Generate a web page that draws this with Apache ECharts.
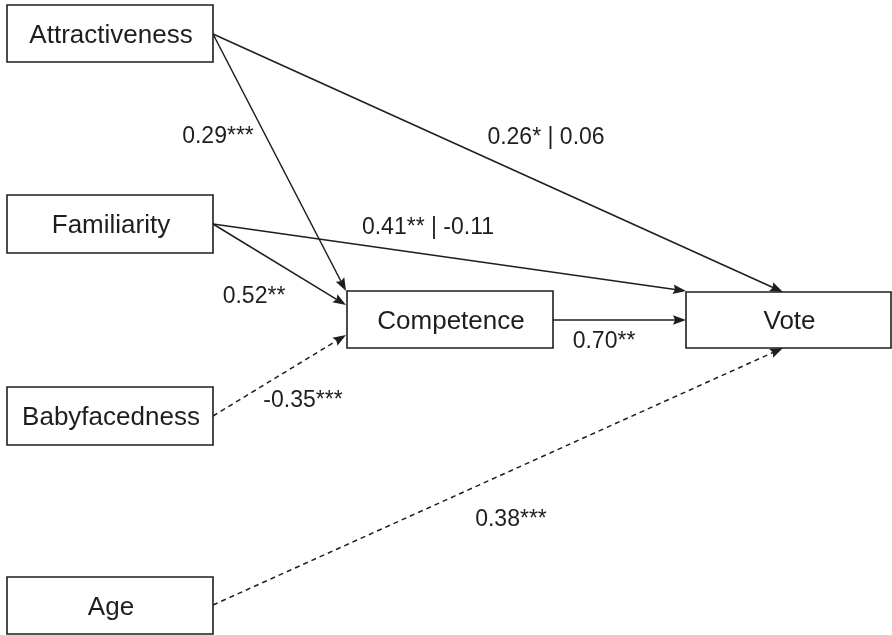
<!DOCTYPE html>
<html>
<head>
<meta charset="utf-8">
<script src="https://cdn.jsdelivr.net/npm/echarts@6/dist/echarts.min.js"></script>
<style>
  html, body { margin: 0; padding: 0; background: #fff; }
  #chart { width: 892px; height: 635px; }
</style>
</head>
<body>
<div id="chart"></div>
<script>
// boxes (left, top in diagram units)
var nodeNames = ['Attractiveness', 'Familiarity', 'Babyfacedness', 'Age', 'Competence', 'Vote'];
var nodeX = [7, 7, 7, 7, 347, 686];
var nodeY = [5, 195, 387, 577, 291, 292];
var nodeW = [206, 206, 206, 206, 206, 205];
var nodeH = [57, 58, 58, 57, 57, 56];

// paths
var edgeStart = [[213, 34], [213, 34], [213, 224], [213, 224], [553, 320], [213, 416], [213, 605]];
var edgeEnd = [[783, 292], [346, 291], [686, 291], [346, 305], [686, 320], [346, 335], [783, 348]];
var edgeDashed = [false, false, false, false, false, true, true];

// coefficients
var edgeLabels = ['0.26* | 0.06', '0.29***', '0.41** | -0.11', '0.52**', '0.70**', '-0.35***', '0.38***'];
var labelX = [546, 218, 428, 254, 604, 303, 511];
var labelY = [136, 135, 226, 295, 340, 399, 518];

var font = '"Liberation Sans", Arial, sans-serif';
var ink = '#1e1e1e';

var myChart = echarts.init(document.getElementById('chart'));

var nodeData = nodeNames.map(function (n, i) {
	return [nodeX[i], nodeY[i], nodeX[i] + nodeW[i], nodeY[i] + nodeH[i], n];
});
var edgeData = edgeStart.map(function (s, i) {
	return [s[0], s[1], edgeEnd[i][0], edgeEnd[i][1], edgeDashed[i] ? 1 : 0];
});
var labelData = edgeLabels.map(function (t, i) {
	return [labelX[i], labelY[i], t];
});

var option = {
	animation: false,
	grid: { left: 0, right: 0, top: 0, bottom: 0 },
	xAxis: { type: 'value', min: 0, max: 892, show: false },
	yAxis: { type: 'value', min: 0, max: 635, inverse: true, show: false },
	series: [
		{
			type: 'custom',
			name: 'edges',
			data: edgeData,
			renderItem: function (params, api) {
				var p1 = api.coord([api.value(0), api.value(1)]);
				var p2 = api.coord([api.value(2), api.value(3)]);
				var dashed = api.value(4) === 1;
				var dx = p2[0] - p1[0], dy = p2[1] - p1[1];
				var len = Math.sqrt(dx * dx + dy * dy);
				var ux = dx / len, uy = dy / len;
				var headL = 13, headW = 4.8;
				var bx = p2[0] - ux * headL, by = p2[1] - uy * headL;
				return {
					type: 'group',
					children: [
						{
							type: 'line',
							shape: { x1: p1[0], y1: p1[1], x2: bx + ux * 2, y2: by + uy * 2 },
							style: { stroke: ink, lineWidth: 1.5, lineDash: dashed ? [5, 4] : null }
						},
						{
							type: 'polygon',
							shape: {
								points: [
									[p2[0], p2[1]],
									[bx - uy * headW, by + ux * headW],
									[bx + ux * 2, by + uy * 2],
									[bx + uy * headW, by - ux * headW]
								]
							},
							style: { fill: ink }
						}
					]
				};
			}
		},
		{
			type: 'custom',
			name: 'nodes',
			data: nodeData,
			renderItem: function (params, api) {
				var a = api.coord([api.value(0), api.value(1)]);
				var b = api.coord([api.value(2), api.value(3)]);
				return {
					type: 'group',
					children: [
						{
							type: 'rect',
							shape: { x: a[0], y: a[1], width: b[0] - a[0], height: b[1] - a[1] },
							style: { fill: '#fff', stroke: ink, lineWidth: 1.6 }
						},
						{
							type: 'text',
							style: {
								x: (a[0] + b[0]) / 2 + 1,
								y: (a[1] + b[1]) / 2 + 2,
								text: api.value(4),
								align: 'center',
								verticalAlign: 'middle',
								font: '26px ' + font,
								fill: ink
							}
						}
					]
				};
			}
		},
		{
			type: 'custom',
			name: 'labels',
			data: labelData,
			renderItem: function (params, api) {
				var p = api.coord([api.value(0), api.value(1)]);
				return {
					type: 'text',
					style: {
						x: p[0],
						y: p[1] + 2,
						text: api.value(2),
						align: 'center',
						verticalAlign: 'middle',
						font: '23px ' + font,
						fill: ink
					}
				};
			}
		}
	]
};

myChart.setOption(option);
</script>
</body>
</html>
